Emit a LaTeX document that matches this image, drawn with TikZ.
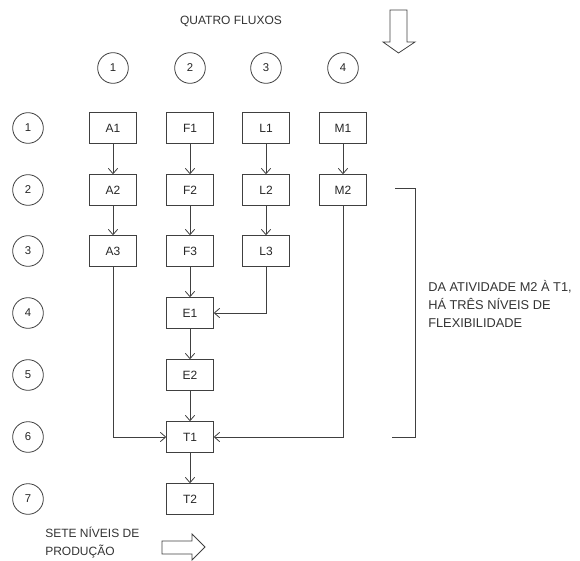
\documentclass[tikz,border=0pt]{standalone}
\usepackage{fontspec}
\setmainfont{Liberation Sans}
\usetikzlibrary{arrows.meta}
\begin{document}
\begin{tikzpicture}[x=0.75pt,y=-0.75pt,
  box/.style={draw=black!75,line width=0.6pt,minimum width=35pt,minimum height=23pt,inner sep=0pt,font=\fontsize{9}{10}\selectfont,text=black!85},
  num/.style={draw=black!75,line width=0.6pt,circle,minimum size=23pt,inner sep=0pt,font=\fontsize{8.5}{10}\selectfont,text=black!85},
  conn/.style={draw=black!75,line width=0.6pt,-{Straight Barb[length=4pt,width=7pt]}},
  lbl/.style={font=\fontsize{9}{13}\selectfont,align=left,inner sep=0pt,text=black!80}]
\useasboundingbox (0,0) rectangle (580,560);
% top text
\node[lbl,anchor=center] (title) at (231,21) {QUATRO FLUXOS};
% column circles
\node[num] (c1) at (113,68) {1};
\node[num] (c2) at (190,68) {2};
\node[num] (c3) at (266,68) {3};
\node[num] (c4) at (343,68) {4};
% row circles
\foreach \i/\y in {1/128,2/190,3/251,4/313,5/375,6/437,7/499}
  \node[num] (r\i) at (28,\y) {\i};
% boxes
\node[box] (A1) at (113,128) {A1};
\node[box] (A2) at (113,190) {A2};
\node[box] (A3) at (113,251) {A3};
\node[box] (F1) at (190,128) {F1};
\node[box] (F2) at (190,190) {F2};
\node[box] (F3) at (190,251) {F3};
\node[box] (L1) at (266,128) {L1};
\node[box] (L2) at (266,190) {L2};
\node[box] (L3) at (266,251) {L3};
\node[box] (M1) at (343,128) {M1};
\node[box] (M2) at (343,190) {M2};
\node[box] (E1) at (190,313) {E1};
\node[box] (E2) at (190,375) {E2};
\node[box] (T1) at (190,437) {T1};
\node[box] (T2) at (190,499) {T2};
% connectors
\draw[conn] (A1) -- (A2);
\draw[conn] (A2) -- (A3);
\draw[conn] (F1) -- (F2);
\draw[conn] (F2) -- (F3);
\draw[conn] (L1) -- (L2);
\draw[conn] (L2) -- (L3);
\draw[conn] (M1) -- (M2);
\draw[conn] (F3) -- (E1);
\draw[conn] (E1) -- (E2);
\draw[conn] (E2) -- (T1);
\draw[conn] (T1) -- (T2);
\draw[conn] (L3) |- (E1);
\draw[conn] (A3) |- (T1);
\draw[conn] (M2) |- (T1);
% bracket
\coordinate (b1) at (395,188);
\coordinate (b2) at (415,188);
\coordinate (b3) at (415,437);
\coordinate (b4) at (392,437);
\draw[black!75,line width=0.6pt] (b1) -- (b2) -- (b3) -- (b4);
\node[lbl,anchor=north west,font=\fontsize{9.6}{13.5}\selectfont] (note) at (428,280) {DA ATIVIDADE M2 À T1,\\HÁ TRÊS NÍVEIS DE\\FLEXIBILIDADE};
% bottom text
\node[lbl,anchor=north west] (sete) at (45,527) {SETE NÍVEIS DE\\PRODUÇÃO};
% block arrows
\draw[black!75,line width=0.6pt] (390,10) -- (407,10) -- (407,42) -- (415,42) -- (398.5,53) -- (383,42) -- (390,42) -- cycle;
\draw[black!75,line width=0.6pt] (162,541) -- (192,541) -- (192,534) -- (205,547) -- (192,560) -- (192,554) -- (162,554) -- cycle;
\end{tikzpicture}
\end{document}
